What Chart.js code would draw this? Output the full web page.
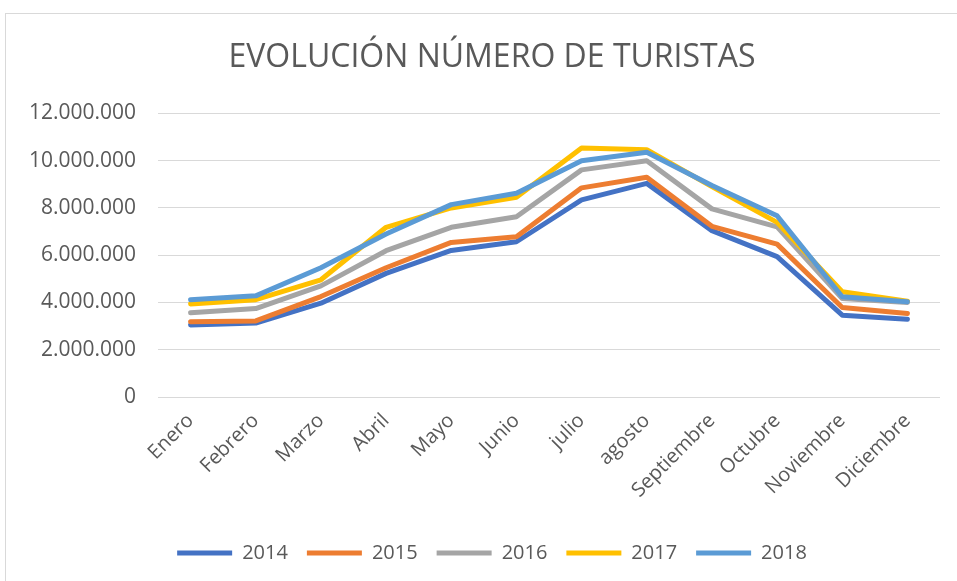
<!DOCTYPE html>
<html>
<head>
<meta charset="utf-8">
<script src="https://cdn.jsdelivr.net/npm/chart.js@4.4.1/dist/chart.umd.min.js"></script>
<style>
  html, body { margin: 0; padding: 0; background: #fff; }
  #wrap { position: relative; width: 957px; height: 581px; overflow: hidden; }
  #frame { position: absolute; left: 5px; top: 13px; width: 1000px; height: 700px; border: 1px solid #d9d9d9; }
  #c { position: absolute; left: 0; top: 0; }
</style>
</head>
<body>
<div id="wrap">
  <div id="frame"></div>
  <canvas id="c" width="957" height="581"></canvas>
</div>
<script>
// months on the x axis
const months = ["Enero", "Febrero", "Marzo", "Abril", "Mayo", "Junio", "julio", "agosto",
    "Septiembre", "Octubre", "Noviembre", "Diciembre"]

// tourists per month
const y2014 = [3050000, 3130000, 3970000, 5230000, 6200000, 6570000, 8340000, 9040000, 7040000, 5940000, 3460000, 3290000]
const y2015 = [3180000, 3220000, 4250000, 5470000, 6540000, 6780000, 8850000, 9300000, 7220000, 6470000, 3790000, 3530000]
const y2016 = [3560000, 3740000, 4700000, 6190000, 7180000, 7630000, 9610000, 10000000, 7960000, 7200000, 4170000, 4000000]
const y2017 = [3940000, 4120000, 4960000, 7180000, 8000000, 8450000, 10540000, 10460000, 8900000, 7390000, 4450000, 4050000]
const y2018 = [4110000, 4280000, 5470000, 6900000, 8140000, 8620000, 10000000, 10360000, 8950000, 7670000, 4240000, 4030000]

const yearLabels = ["2014", "2015", "2016", "2017", "2018"]
const colors = ["#4472C4", "#ED7D31", "#A5A5A5", "#FFC000", "#5B9BD5"]
const series = [y2014, y2015, y2016, y2017, y2018]

// y axis ticks: 0 .. 12.000.000 every 2.000.000
const yMax = 12000000
const yStep = 2000000

const grey = "#595959"
const font = "'Open Sans', sans-serif"

// 12.000.000 style
function dots(v){
    return String(v).replace(/\B(?=(\d{3})+(?!\d))/g, ".")
}

let datasets = series.map((vals, i) => ({
    label: yearLabels[i],
    data: vals,
    borderColor: colors[i],
    backgroundColor: colors[i],
    borderWidth: 5,
    borderJoinStyle: "round",
    borderCapStyle: "round",
    pointRadius: 0,
    tension: 0,
    // later years on top, like the original
    order: series.length - i
}))

// the y labels are wider than the axis box (the title and legend need the
// left padding), so let the label clip area start at the canvas edge
const unclipY = {
    id: "unclipY",
    afterLayout(c){
        c.scales.y.left = 0
    }
}

let chart = new Chart(document.getElementById("c"), {
    type: "line",
    data: { labels: months, datasets: datasets },
    plugins: [unclipY],
    options: {
        responsive: false,
        animation: false,
        layout: { padding: { left: 44, right: 17, top: 0, bottom: 8 } },
        plugins: {
            title: {
                display: true,
                text: "EVOLUCIÓN NÚMERO DE TURISTAS",
                color: grey,
                font: { family: font, size: 32, weight: "normal", lineHeight: 1.2 },
                padding: { top: 39, bottom: 36 }
            },
            legend: {
                position: "bottom",
                labels: {
                    color: grey,
                    font: { family: font, size: 20 },
                    usePointStyle: true,
                    pointStyle: "line",
                    pointStyleWidth: 55,
                    padding: 19,
                    sort: (a, b) => a.datasetIndex - b.datasetIndex
                }
            },
            tooltip: { enabled: false }
        },
        scales: {
            x: {
                offset: true,
                grid: { display: false, drawTicks: false },
                border: { display: false },
                ticks: {
                    color: grey,
                    font: { family: font, size: 20 },
                    maxRotation: 45,
                    minRotation: 45,
                    padding: 12,
                    autoSkip: false
                },
                afterFit: s => { s.height = 127 }
            },
            y: {
                min: 0,
                max: yMax,
                grid: { color: "#d9d9d9", lineWidth: 1, drawTicks: false },
                border: { display: false },
                ticks: {
                    stepSize: yStep,
                    color: grey,
                    font: { family: font, size: 21 },
                    padding: 22,
                    callback: v => dots(v)
                },
                afterFit: s => { s.width = 114 }
            }
        }
    }
})
</script>
</body>
</html>
